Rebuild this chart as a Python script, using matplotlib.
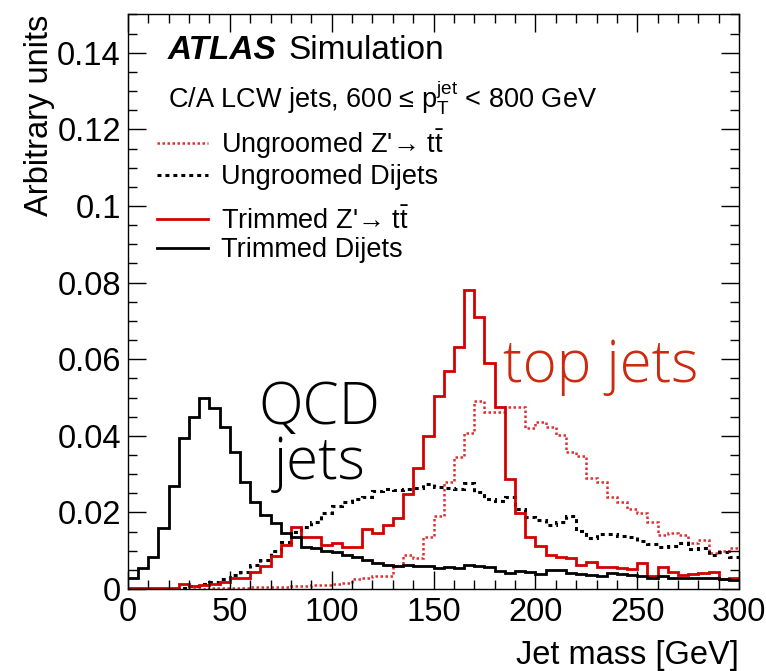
import numpy as np
import matplotlib
matplotlib.use("Agg")
import matplotlib.pyplot as plt
from matplotlib.ticker import MultipleLocator

plt.rcParams['font.family'] = ['Liberation Sans', 'DejaVu Sans']
plt.rcParams['mathtext.fontset'] = 'custom'
plt.rcParams['mathtext.rm'] = 'Liberation Sans'
plt.rcParams['mathtext.it'] = 'Liberation Sans:italic'
plt.rcParams['mathtext.bf'] = 'Liberation Sans:bold'

# 5 GeV bins from 0 to 300 GeV
bin_edges = np.linspace(0, 300, 61)

ungroomed_zprime = [
    0.0, 0.0, 0.0, 0.0, 0.0, 0.0, 0.0, 0.0, 0.0002, 0.0002,
    0.0003, 0.0003, 0.0004, 0.0005, 0.0006, 0.0006, 0.0007, 0.0008, 0.001, 0.001,
    0.0012, 0.0015, 0.0025, 0.003, 0.0033, 0.0033, 0.006, 0.0089, 0.008, 0.0135,
    0.019, 0.028, 0.0345, 0.0407, 0.049, 0.0463, 0.0463, 0.0475, 0.0474, 0.042,
    0.0437, 0.0424, 0.0402, 0.0359, 0.0347, 0.0289, 0.028, 0.0241, 0.0228, 0.021,
    0.0199, 0.0176, 0.014, 0.0145, 0.0141, 0.0121, 0.0129, 0.0093, 0.01, 0.0108,
]

ungroomed_dijets = [
    0.0, 0.0, 0.0, 0.0, 0.0, 0.0003, 0.0008, 0.0013, 0.0019, 0.0027,
    0.0037, 0.0045, 0.0063, 0.0076, 0.01, 0.0124, 0.015, 0.0163, 0.0176, 0.0198,
    0.0217, 0.0228, 0.0234, 0.0241, 0.0255, 0.026, 0.0258, 0.0262, 0.0265, 0.0274,
    0.0267, 0.0263, 0.026, 0.0276, 0.0254, 0.0235, 0.0229, 0.0241, 0.021, 0.0187,
    0.018, 0.0167, 0.0174, 0.019, 0.0151, 0.0132, 0.0143, 0.0143, 0.0139, 0.0137,
    0.0126, 0.0117, 0.011, 0.0112, 0.0121, 0.0104, 0.0106, 0.0089, 0.0097, 0.0083,
]

trimmed_zprime = [
    0.0002, 0.0002, 0.0002, 0.0002, 0.0002, 0.0013, 0.0008, 0.001, 0.0013, 0.0018,
    0.003, 0.0028, 0.0045, 0.006, 0.0085, 0.0115, 0.0162, 0.0137, 0.0137, 0.0115,
    0.0119, 0.011, 0.011, 0.0156, 0.0145, 0.0167, 0.0185, 0.0247, 0.0315, 0.040,
    0.0505, 0.057, 0.0632, 0.078, 0.0711, 0.059, 0.0474, 0.0288, 0.0198, 0.0137,
    0.0112, 0.0089, 0.0084, 0.008, 0.0063, 0.007, 0.0058, 0.0057, 0.0055, 0.0053,
    0.0069, 0.0034, 0.0058, 0.0044, 0.0036, 0.004, 0.0043, 0.0045, 0.0025, 0.003,
]

trimmed_dijets = [
    0.0028, 0.0055, 0.0084, 0.016, 0.0268, 0.0393, 0.045, 0.050, 0.0473, 0.0423,
    0.0359, 0.028, 0.0228, 0.0193, 0.0172, 0.0146, 0.0137, 0.011, 0.0106, 0.0099,
    0.0097, 0.0089, 0.0083, 0.0076, 0.0069, 0.0063, 0.006, 0.0062, 0.006, 0.0061,
    0.0056, 0.0058, 0.0056, 0.0062, 0.0061, 0.0058, 0.0047, 0.0043, 0.0046, 0.0045,
    0.0038, 0.005, 0.005, 0.0041, 0.004, 0.0037, 0.0033, 0.0041, 0.004, 0.0037,
    0.0034, 0.003, 0.0034, 0.003, 0.0028, 0.003, 0.0028, 0.0028, 0.0025, 0.0023,
]

labels = [
    "Ungroomed Z'\u2192 $\\mathrm{t\\bar{t}}$",
    "Ungroomed Dijets",
    "Trimmed Z'\u2192 $\\mathrm{t\\bar{t}}$",
    "Trimmed Dijets",
]

RED = '#d40000'
RED_LIGHT = '#e03030'

fig = plt.figure(figsize=(7.66, 6.71), dpi=100)
ax = fig.add_axes([0.167, 0.1222, 0.798, 0.8562])

h1 = ax.stairs(ungroomed_zprime, bin_edges, baseline=None, color=RED_LIGHT,
               linewidth=1.8, linestyle=(0, (1, 1)))
h2 = ax.stairs(ungroomed_dijets, bin_edges, baseline=None, color='black',
               linewidth=2.2, linestyle=(0, (1.3, 1.3)))
h3 = ax.stairs(trimmed_zprime, bin_edges, baseline=None, color=RED,
               linewidth=2.0)
h4 = ax.stairs(trimmed_dijets, bin_edges, baseline=None, color='black',
               linewidth=2.0)

ax.set_xlim(0, 300)
ax.set_ylim(0, 0.15)

ax.xaxis.set_major_locator(MultipleLocator(50))
ax.xaxis.set_minor_locator(MultipleLocator(10))
ax.yaxis.set_major_locator(MultipleLocator(0.02))
ax.yaxis.set_minor_locator(MultipleLocator(0.005))
ax.yaxis.set_major_formatter(matplotlib.ticker.FuncFormatter(
    lambda v, p: '0' if abs(v) < 1e-9 else ('%g' % round(v, 3))))

ax.tick_params(which='both', direction='in', top=True, right=True,
               labelsize=23.5, width=1.0)
ax.tick_params(which='major', length=13)
ax.tick_params(which='minor', length=6.5)
ax.tick_params(axis='x', which='major', pad=6)
ax.tick_params(axis='y', which='major', pad=5)
for s in ax.spines.values():
    s.set_linewidth(1.0)

ax.set_ylabel('Arbitrary units', fontsize=23.5, loc='top')
ax.yaxis.set_label_coords(-0.12, 1.0)
ax.set_xlabel('Jet mass [GeV]', fontsize=23.5, loc='right')
ax.xaxis.set_label_coords(1.0, -0.088)

ax.text(0.0655, 0.938, 'ATLAS', transform=ax.transAxes, fontsize=24,
        fontweight='bold', fontstyle='italic', va='center', ha='left')
ax.text(0.263, 0.938, 'Simulation', transform=ax.transAxes, fontsize=24,
        va='center', ha='left')
ax.text(0.0655, 0.856,
        'C/A LCW jets, 600 \u2264 $\\mathrm{p_{T}^{jet}}$ < 800 GeV',
        transform=ax.transAxes, fontsize=19.5, va='center', ha='left')

leg1 = ax.legend([h1, h2], labels[:2], loc='upper left',
                 bbox_to_anchor=(0.0475, 0.803), frameon=False, fontsize=19.5,
                 handlelength=1.9, handletextpad=0.45, borderpad=0,
                 borderaxespad=0, labelspacing=0.12)
ax.add_artist(leg1)
ax.legend([h3, h4], labels[2:], loc='upper left',
          bbox_to_anchor=(0.0475, 0.664), frameon=False, fontsize=19.5,
          handlelength=1.9, handletextpad=0.45, borderpad=0,
          borderaxespad=0, labelspacing=0.1)

ax.text(94, 0.040, 'QCD\njets', fontsize=42, family=['Open Sans', 'DejaVu Sans'],
        fontweight='light', ha='center', va='center', linespacing=0.9)
ax.text(232, 0.058, 'top jets', fontsize=42, family=['Open Sans', 'DejaVu Sans'],
        fontweight='light', ha='center', va='center', color='#cc2a10')

fig.savefig('out.png', dpi=100)
